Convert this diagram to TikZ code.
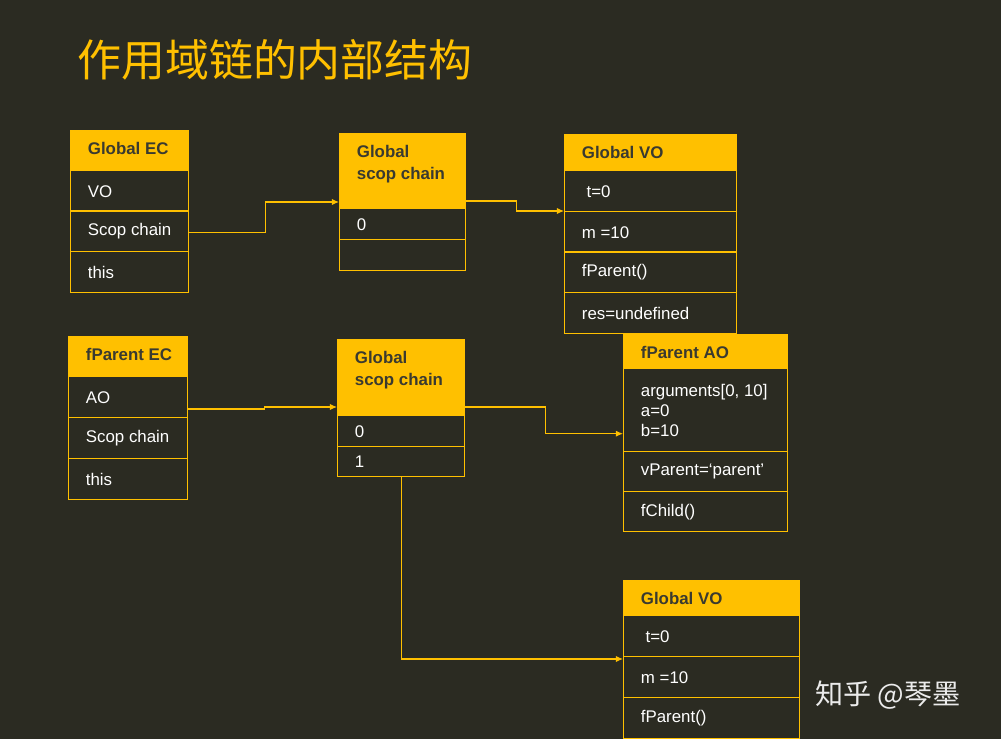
\documentclass[tikz,border=0pt]{standalone}
\usepackage{fontspec}
\setmainfont{Liberation Sans}
\newfontfamily\cjk{Noto Sans CJK SC}
\usetikzlibrary{arrows.meta}
\definecolor{bg}{HTML}{2B2B22}
\definecolor{gold}{HTML}{FFC000}
\definecolor{hdrtext}{HTML}{3A3A30}
\tikzset{
  cell/.style={draw=gold, line width=0.8pt, anchor=north west, inner sep=0pt},
  hcell/.style={cell, fill=gold},
  txt/.style={anchor=west, text=white, font=\fontsize{9.6}{11.5}\selectfont, align=left, inner sep=0pt},
  htxt/.style={anchor=north west, text=hdrtext, font=\bfseries\fontsize{9.6}{12.5}\selectfont, align=left, inner sep=0pt},
  arr/.style={draw=gold, line width=0.6pt, -{Latex[length=4pt,width=3.5pt]}}
}
% name, x, y, w, h, text
\newcommand\cellrow[6]{%
  \node[cell, minimum width=#4*0.02cm, minimum height=#5*0.02cm] (#1) at (#2,#3) {};
  \node[txt] at ([xshift=10pt]#1.west) {#6};}
\newcommand\hdrrow[6]{%
  \node[hcell, minimum width=#4*0.02cm, minimum height=#5*0.02cm] (#1) at (#2,#3) {};
  \node[htxt] at ([xshift=10pt,yshift=-7pt]#1.north west) {#6};}
\begin{document}
\begin{tikzpicture}[x=0.02cm, y=-0.02cm]
  \fill[bg] (0,0) rectangle (1001,739);
  \useasboundingbox (0,0) rectangle (1001,739);

  % title
  \node[anchor=west, text=gold, font=\cjk\fontsize{25}{30}\selectfont, inner sep=0pt] (title) at (77,60) {作用域链的内部结构};

  % Global EC
  \hdrrow{gec}{70}{130}{118}{40}{Global EC}
  \foreach \n/\y/\t in {1/170/VO, 2/210/Scop chain, 3/251/this}{
    \cellrow{gec\n}{70}{\y}{118}{41}{\t}
  }

  % Global scope chain
  \hdrrow{gsc}{339}{133}{126}{75}{Global\\scop chain}
  \cellrow{gsc1}{339}{208}{126}{31}{0}
  \cellrow{gsc2}{339}{239}{126}{31}{}

  % Global VO
  \hdrrow{gvo}{564}{134}{172}{36}{Global VO}
  \foreach \n/\y/\t in {1/170/{\ t=0}, 2/211/{m =10}, 3/251/{fParent()}, 4/292/{res=undefined}}{
    \cellrow{gvo\n}{564}{\y}{172}{41}{\t}
  }

  % fParent EC
  \hdrrow{fec}{68}{336}{119}{40}{fParent EC}
  \foreach \n/\y/\t in {1/376/AO, 2/417/Scop chain, 3/458/this}{
    \cellrow{fec\n}{68}{\y}{119}{41}{\t}
  }

  % fParent scope chain
  \hdrrow{psc}{337}{339}{127}{76}{Global\\scop chain}
  \cellrow{psc1}{337}{415}{127}{31}{0}
  \cellrow{psc2}{337}{446}{127}{30}{1}

  % fParent AO
  \hdrrow{ao}{623}{334}{164}{34}{fParent AO}
  \cellrow{ao1}{623}{368}{164}{83}{arguments[0, 10]\\a=0\\b=10}
  \cellrow{ao2}{623}{451}{164}{40}{vParent=‘parent’}
  \cellrow{ao3}{623}{491}{164}{40}{fChild()}

  % Global VO (second)
  \hdrrow{gvb}{623}{580}{176}{35}{Global VO}
  \foreach \n/\y/\t in {1/615/{\ t=0}, 2/656/{m =10}, 3/697/{fParent()}}{
    \cellrow{gvb\n}{623}{\y}{176}{41}{\t}
  }

  % links
  \draw[arr] ([yshift=-0.02cm]gec2.east) -- ++(76,0) |- ([yshift=0.12cm]gsc1.north west);
  \draw[arr] ([yshift=0.14cm]gsc1.north east) -- ++(50,0) |- (gvo2.north west);
  \draw[arr] ([yshift=0.16cm]fec2.north east) -- ++(76,0) |- ([yshift=0.16cm]psc1.north west);
  \draw[arr] ([yshift=0.16cm]psc1.north east) -- ++(80,0) |- ([yshift=-0.47cm]ao1.west);
  \draw[arr] (psc2.south) |- ([yshift=-0.06cm]gvb2.north west);

  % watermark
  \node[anchor=west, text=white!92!black, font=\cjk\fontsize{16}{19}\selectfont, inner sep=0pt] (mark) at (815,695) {知乎 @琴墨};
\end{tikzpicture}
\end{document}
